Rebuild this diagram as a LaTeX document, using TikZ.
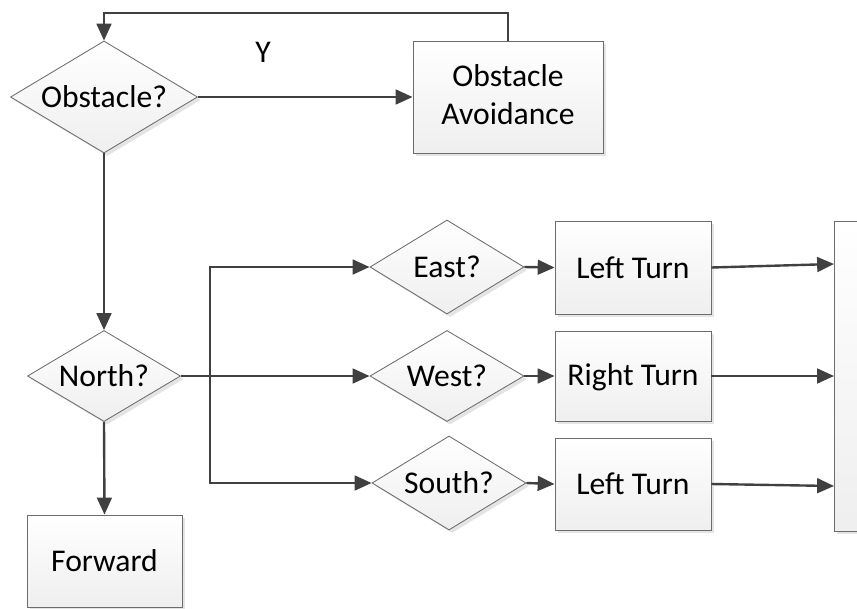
\documentclass[tikz,border=0pt]{standalone}
\usepackage{fontspec}
\setmainfont{Carlito}
\usetikzlibrary{shapes.geometric,arrows.meta,shadows}

\newcommand\tstrut{\rule[-3pt]{0pt}{21pt}}

\begin{document}
\begin{tikzpicture}[x=0.025cm, y=-0.025cm,
  every node/.style={font=\fontsize{22.5}{27}\selectfont,
    execute at begin node=\tstrut, execute at end node=\tstrut},
  shade/.style={draw=gray!85!black, line width=0.6pt, top color=white, bottom color=gray!13,
    drop shadow={shadow xshift=2.2pt, shadow yshift=-2.2pt, fill=gray!30, opacity=0.7}},
  decision/.style={shade, diamond, aspect=1.67, inner sep=0pt},
  process/.style={shade, rectangle, inner sep=0pt, align=center},
  flow/.style={draw=black!75, line width=1.7pt, -{Triangle[length=12pt, width=10.5pt]}},
  link/.style={draw=black!75, line width=1.7pt}]

\clip (0,0) rectangle (857,608);

% decisions
\node[decision, minimum width=4.675cm, minimum height=2.8cm] (obst) at (104,97) {Obstacle?};
\node[decision, minimum width=3.825cm, minimum height=2.275cm] (north) at (104,376) {North?};
\node[decision, minimum width=3.85cm, minimum height=2.35cm] (east) at (447,267) {East?};
\node[decision, minimum width=3.85cm, minimum height=2.275cm] (west) at (447,376) {West?};
\node[decision, minimum width=3.85cm, minimum height=2.35cm] (south) at (449,483) {South?};

% actions
\node[process, minimum width=4.75cm, minimum height=2.8cm] (avoid) at (508,97) {Obstacle\\Avoidance};
\node[process, minimum width=3.9cm, minimum height=2.325cm] (left1) at (633,267.5) {Left Turn};
\node[process, minimum width=3.9cm, minimum height=2.25cm] (right) at (633,376) {Right Turn};
\node[process, minimum width=3.9cm, minimum height=2.3cm] (left2) at (633,484) {Left Turn};
\node[process, minimum width=3.875cm, minimum height=2.3cm] (fwd) at (104.5,561) {Forward};
\node[process, minimum width=3.75cm, minimum height=7.75cm] (merge) at (909,376) {};

\node (yes) at (263,52) {Y};

\coordinate (loop) at (104,13);
\coordinate (split) at (210,376);
\coordinate (in1) at (834,264);
\coordinate (in2) at (834,376);
\coordinate (in3) at (834,486);

% obstacle loop
\draw[flow] (avoid.north) |- (loop) -- (obst.north);
\draw[flow] (obst.east) -- (avoid.west);
\draw[flow] (obst.south) -- (north.north);

% heading checks
\draw[link] (north.east) -- (split);
\draw[flow] (split) |- (east.west);
\draw[flow] (split) -- (west.west);
\draw[flow] (split) |- (south.west);
\draw[flow] (north.south) -- (fwd.north);

\draw[flow] (east.east) -- (left1.west);
\draw[flow] (west.east) -- (right.west);
\draw[flow] (south.east) -- (left2.west);

\draw[flow] (left1.east) -- (in1);
\draw[flow] (right.east) -- (in2);
\draw[flow] (left2.east) -- (in3);
\end{tikzpicture}
\end{document}
